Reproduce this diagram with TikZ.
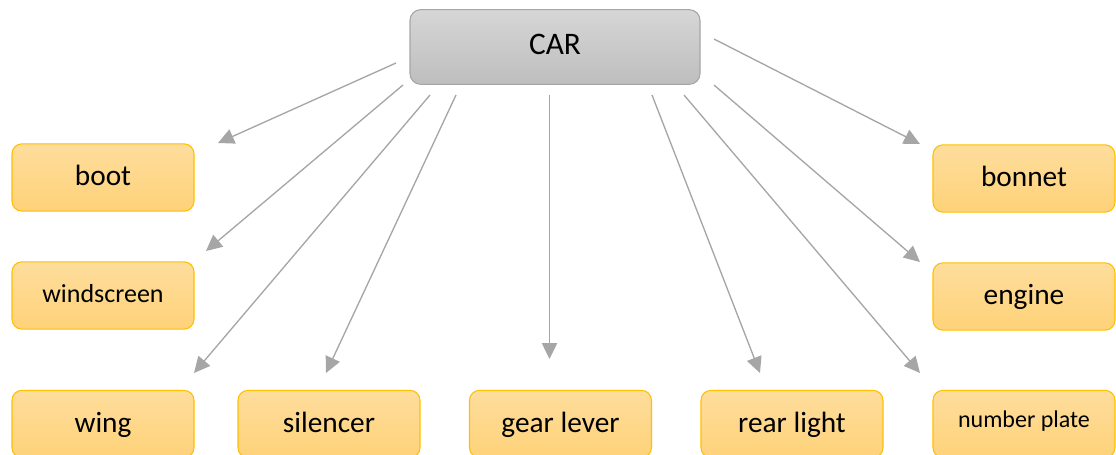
\documentclass[tikz,border=0pt]{standalone}
\usepackage{fontspec}
\setmainfont{Carlito}
\usetikzlibrary{arrows.meta}
\definecolor{partfill1}{HTML}{FEDD9C}
\definecolor{partfill2}{HTML}{FED279}
\definecolor{partedge}{HTML}{FFC000}
\definecolor{rootfill1}{HTML}{D6D6D6}
\definecolor{rootfill2}{HTML}{BEBEBE}
\definecolor{rootedge}{HTML}{A6A6A6}
\definecolor{linkgray}{HTML}{A6A6A6}
\tikzset{
  partbox/.style={draw=partedge, line width=0.8pt, rounded corners=7.5pt,
    top color=partfill1, bottom color=partfill2, text=black,
    minimum width=136.5pt, minimum height=50.5pt, inner sep=0pt,
    text height=15pt, text depth=3pt, font=\fontsize{22}{26}\selectfont},
  rootbox/.style={draw=rootedge, line width=0.8pt, rounded corners=8pt,
    top color=rootfill1, bottom color=rootfill2, text=black,
    minimum width=217.5pt, minimum height=56pt, inner sep=0pt,
    text height=13.5pt, text depth=3pt, font=\fontsize{23.5}{27}\selectfont},
  link/.style={draw=linkgray, line width=1pt, -{Triangle[length=12pt,width=11.5pt]}},
}
\begin{document}
\begin{tikzpicture}[x=0.75pt, y=-0.75pt]
\useasboundingbox (0,0) rectangle (1116,454);
% central node
\node[rootbox] (car) at (555,47) {CAR};
% parts, left column
\node[partbox] (boot) at (103,177.5) {boot};
\node[partbox, font=\fontsize{19.5}{23}\selectfont, text height=13pt, text depth=3.2pt]
  (windscreen) at (103,295.5) {windscreen};
\node[partbox] (wing) at (103,424) {wing};
% parts, bottom row
\node[partbox] (silencer) at (329,424) {silencer};
\node[partbox] (gear) at (560.5,424) {gear lever};
\node[partbox] (rear) at (792,424) {rear light};
\node[partbox, font=\fontsize{18}{22}\selectfont, text height=8pt, text depth=3.5pt]
  (plate) at (1024,424) {number plate};
% parts, right column
\node[partbox] (bonnet) at (1024,178.5) {bonnet};
\node[partbox] (engine) at (1024,296.5) {engine};
% connector ends
\coordinate (s-boot) at (396,63);       \coordinate (t-boot) at (218,143);
\coordinate (s-wind) at (403,85);       \coordinate (t-wind) at (206,251);
\coordinate (s-wing) at (430,95);       \coordinate (t-wing) at (194,373);
\coordinate (s-sil) at (456,95);        \coordinate (t-sil) at (326,373);
\coordinate (s-gear) at (549.5,95);     \coordinate (t-gear) at (549.5,359);
\coordinate (s-rear) at (652,95);       \coordinate (t-rear) at (760,373);
\coordinate (s-plate) at (684,95);      \coordinate (t-plate) at (920,373);
\coordinate (s-eng) at (714,85);        \coordinate (t-eng) at (920,262);
\coordinate (s-bon) at (714,39);        \coordinate (t-bon) at (920,144);
% connectors
\draw[link] (s-boot) -- (t-boot);
\draw[link] (s-wind) -- (t-wind);
\draw[link] (s-wing) -- (t-wing);
\draw[link] (s-sil) -- (t-sil);
\draw[link] (s-gear) -- (t-gear);
\draw[link] (s-rear) -- (t-rear);
\draw[link] (s-plate) -- (t-plate);
\draw[link] (s-eng) -- (t-eng);
\draw[link] (s-bon) -- (t-bon);
\end{tikzpicture}
\end{document}
